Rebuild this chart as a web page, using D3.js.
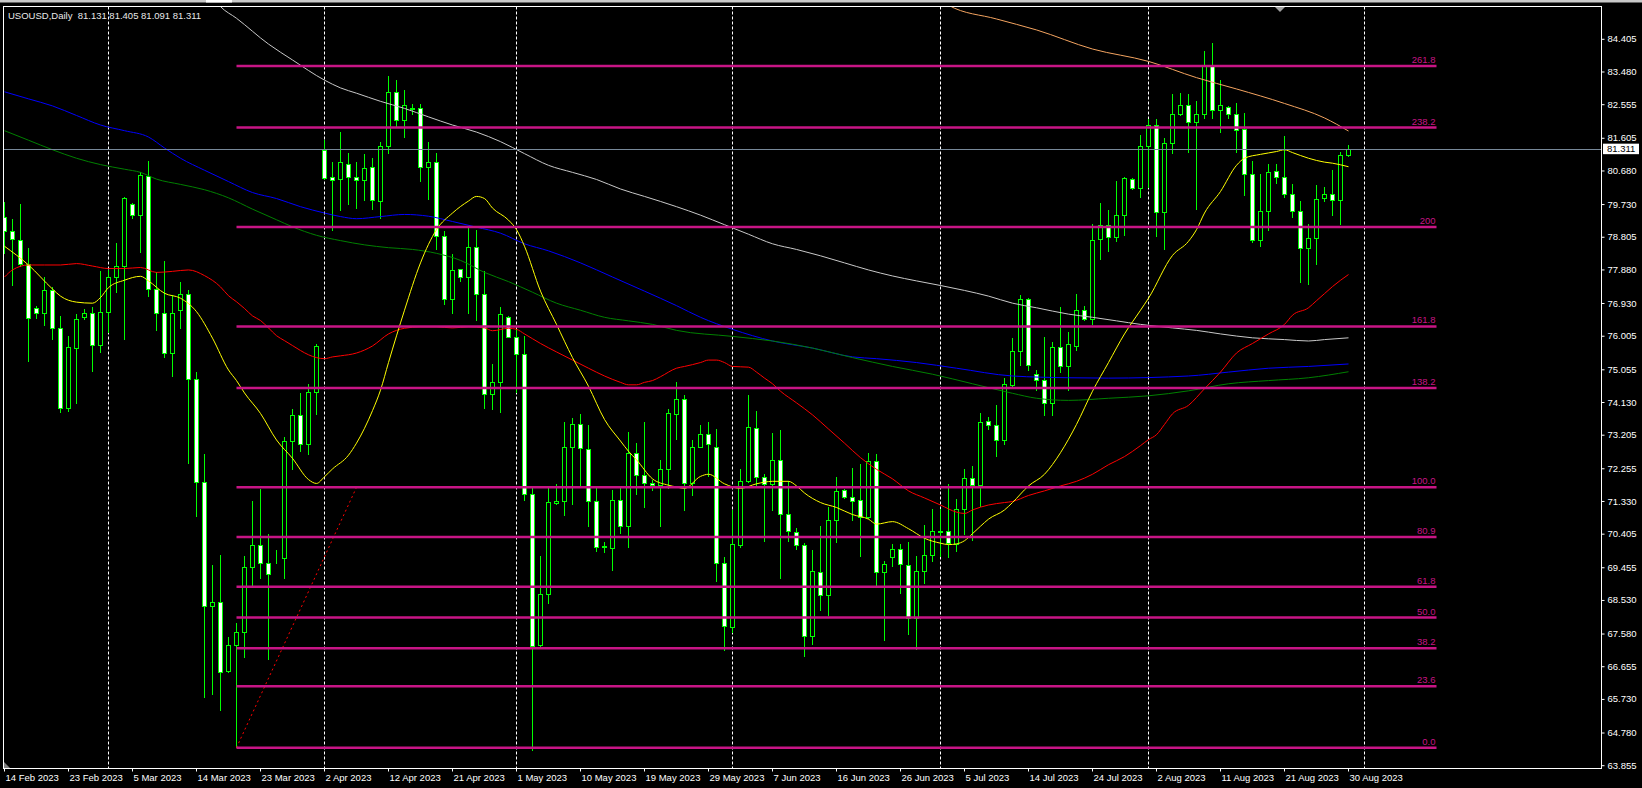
<!DOCTYPE html>
<html>
<head>
<meta charset="utf-8">
<title>USOUSD,Daily</title>
<script src="https://cdn.jsdelivr.net/npm/d3@7"></script>
<style>
    body { margin: 0; background: #000; overflow: hidden; }
    #chart-area text { font-family: "Liberation Sans", Arial, sans-serif; font-size: 9.5px; }
</style>
</head>
<body>
<div id="chart-area"></div>
<script>

// Symbol / last bar
var symbolTitle = 'USOUSD,Daily';
var lastQuote = [81.131, 81.405, 81.091, 81.311];

// X axis labels (one every 8 bars)
var dateLabels = ['14 Feb 2023', '23 Feb 2023', '5 Mar 2023', '14 Mar 2023', '23 Mar 2023', '2 Apr 2023',
    '12 Apr 2023', '21 Apr 2023', '1 May 2023', '10 May 2023', '19 May 2023', '29 May 2023', '7 Jun 2023',
    '16 Jun 2023', '26 Jun 2023', '5 Jul 2023', '14 Jul 2023', '24 Jul 2023', '2 Aug 2023', '11 Aug 2023',
    '21 Aug 2023', '30 Aug 2023'];
var labelEvery = 8;

// Bars where a new month starts (period separators)
var monthStarts = [13, 40, 64, 91, 117, 143, 170];

// Price scale labels
var priceTicks = [84.405, 83.480, 82.555, 81.605, 80.680, 79.730, 78.805, 77.880, 76.930, 76.005, 75.055,
    74.130, 73.205, 72.255, 71.330, 70.405, 69.455, 68.530, 67.580, 66.655, 65.730, 64.780, 63.855];

// Daily candles: open, high, low, close
var ohlc = [
    [79.39, 79.80, 78.35, 78.98], [78.98, 79.33, 77.44, 78.76], [78.74, 79.74, 77.99, 78.04], [78.04, 78.49, 75.31, 76.52],
    [76.79, 76.87, 76.51, 76.66], [76.65, 77.68, 76.31, 77.30], [77.30, 77.41, 75.92, 76.23], [76.23, 76.58, 73.85, 73.98],
    [73.97, 76.00, 73.88, 75.69], [75.68, 76.63, 74.12, 76.48], [76.54, 76.77, 76.50, 76.65], [76.65, 76.82, 75.03, 75.76],
    [75.76, 77.84, 75.57, 76.70], [76.70, 77.88, 76.13, 77.69], [77.67, 78.65, 77.26, 77.99], [77.99, 79.95, 75.92, 79.91],
    [79.74, 79.76, 79.36, 79.43], [79.43, 80.66, 78.38, 80.57], [80.54, 80.96, 77.13, 77.33], [77.33, 77.81, 76.19, 76.65],
    [76.65, 78.14, 75.42, 75.52], [75.52, 77.17, 74.87, 76.67], [76.74, 77.55, 76.24, 77.21], [77.21, 77.32, 72.41, 74.79],
    [74.79, 74.99, 70.91, 71.89], [71.89, 72.67, 65.81, 68.37], [68.37, 69.52, 65.87, 68.50], [68.50, 69.82, 65.42, 66.51],
    [66.54, 67.49, 66.50, 67.26], [67.26, 67.89, 64.37, 67.65], [67.65, 69.78, 66.92, 69.47], [69.47, 71.33, 68.92, 70.09],
    [70.09, 71.69, 69.17, 69.59], [69.59, 70.42, 66.86, 69.27], [69.76, 69.97, 69.59, 69.75], [69.73, 73.14, 69.17, 73.03],
    [73.03, 73.96, 72.24, 73.78], [73.78, 74.40, 72.77, 72.95], [72.95, 74.66, 72.67, 74.43], [74.43, 75.78, 73.81, 75.74],
    [81.28, 81.56, 80.45, 80.49], [80.50, 80.93, 79.00, 80.43], [80.45, 81.78, 79.59, 80.92], [80.89, 81.20, 79.74, 80.52],
    [80.50, 80.93, 79.64, 80.42], [80.43, 81.15, 79.87, 80.76], [80.78, 81.04, 79.60, 79.86], [79.83, 81.51, 79.36, 81.40],
    [81.40, 83.36, 81.20, 82.91], [82.91, 83.26, 81.95, 82.12], [82.12, 82.97, 81.63, 82.54], [82.45, 82.57, 82.28, 82.43],
    [82.45, 82.58, 80.41, 80.78], [80.80, 81.50, 79.88, 80.92], [80.92, 81.19, 78.47, 78.84], [78.84, 78.97, 76.91, 77.06],
    [77.06, 78.34, 76.65, 77.87], [77.90, 77.92, 77.56, 77.68], [77.68, 79.13, 76.65, 78.54], [78.54, 79.01, 76.47, 77.20],
    [77.20, 77.85, 73.98, 74.37], [74.37, 75.22, 73.96, 74.70], [74.70, 76.83, 73.86, 76.63], [76.55, 76.58, 75.97, 75.99],
    [75.99, 76.20, 74.43, 75.49], [75.49, 76.00, 71.36, 71.54], [71.54, 71.70, 64.31, 67.24], [67.26, 69.78, 67.24, 68.72],
    [68.72, 71.74, 68.46, 71.31], [71.28, 71.82, 71.26, 71.34], [71.34, 73.58, 70.96, 72.88], [72.88, 73.70, 71.27, 73.53],
    [73.53, 73.81, 71.81, 72.83], [72.81, 73.49, 70.64, 71.34], [71.34, 71.77, 69.93, 70.05], [70.07, 70.19, 69.91, 70.05],
    [70.02, 71.66, 69.39, 71.36], [71.36, 71.73, 70.44, 70.65], [70.65, 73.30, 70.05, 72.71], [72.71, 72.98, 71.54, 72.08],
    [72.08, 73.57, 71.17, 71.86], [71.86, 71.93, 71.66, 71.79], [71.79, 72.51, 70.63, 72.24], [72.24, 73.94, 71.70, 73.84],
    [73.81, 74.71, 73.11, 74.23], [74.23, 74.35, 71.09, 71.85], [71.85, 73.08, 71.51, 72.88], [72.88, 73.49, 72.86, 73.23],
    [73.23, 73.58, 72.04, 72.96], [72.87, 73.38, 69.08, 69.59], [69.59, 69.75, 67.13, 67.80], [67.78, 71.09, 67.63, 70.13],
    [70.11, 72.24, 70.05, 71.90], [71.90, 74.35, 71.88, 73.43], [73.41, 73.89, 71.78, 72.01], [72.01, 72.12, 70.22, 71.83],
    [71.83, 73.27, 71.09, 72.49], [72.49, 73.34, 69.16, 70.97], [70.97, 71.90, 70.22, 70.49], [70.46, 70.58, 69.98, 70.09],
    [70.11, 70.15, 66.96, 67.53], [67.53, 69.95, 67.30, 69.35], [69.33, 70.64, 68.25, 68.69], [68.69, 71.16, 68.13, 70.81],
    [70.81, 72.02, 70.19, 71.63], [71.66, 71.69, 71.43, 71.47], [71.46, 72.27, 70.81, 71.35], [71.36, 72.38, 69.78, 70.89],
    [70.89, 72.71, 70.86, 72.48], [72.48, 72.67, 68.98, 69.33], [69.33, 69.64, 67.41, 69.56], [69.75, 70.13, 69.51, 69.99],
    [69.99, 70.13, 68.74, 69.55], [69.54, 70.18, 67.57, 68.04], [68.04, 69.79, 67.16, 69.37], [69.37, 70.67, 69.01, 69.82],
    [69.82, 71.12, 69.64, 70.49], [70.49, 71.11, 69.79, 70.48], [70.49, 71.83, 69.75, 70.15], [70.13, 71.40, 69.93, 71.11],
    [71.13, 72.24, 70.42, 71.99], [71.99, 72.33, 70.25, 71.79], [71.79, 73.84, 71.20, 73.57], [73.60, 73.72, 73.38, 73.50],
    [73.50, 74.05, 72.61, 73.08], [73.08, 74.83, 72.95, 74.64], [74.63, 75.96, 74.58, 75.60], [75.60, 77.18, 75.18, 77.05],
    [77.05, 77.08, 75.05, 75.18], [74.93, 75.05, 74.48, 74.76], [74.76, 75.97, 73.78, 74.12], [74.12, 75.85, 73.78, 75.69],
    [75.69, 76.83, 74.98, 75.17], [75.17, 76.12, 74.48, 75.79], [75.74, 77.21, 75.61, 76.74], [76.74, 76.87, 76.47, 76.50],
    [76.50, 79.18, 76.36, 78.74], [78.75, 79.76, 78.18, 79.14], [79.14, 79.59, 78.41, 78.82], [78.82, 80.40, 78.69, 79.43],
    [79.43, 80.52, 78.88, 80.48], [80.46, 80.49, 80.17, 80.19], [80.19, 81.69, 79.94, 81.40], [81.40, 82.16, 80.23, 81.97],
    [81.97, 82.16, 78.85, 79.52], [79.52, 81.60, 78.46, 81.47], [81.47, 82.87, 81.20, 82.28], [82.28, 82.88, 82.26, 82.56],
    [82.56, 82.87, 81.21, 82.06], [82.06, 82.65, 79.60, 82.28], [82.29, 84.08, 82.18, 83.65], [83.65, 84.30, 82.17, 82.41],
    [82.41, 83.26, 81.78, 82.54], [82.50, 82.52, 82.17, 82.30], [82.30, 82.60, 81.23, 81.83], [81.86, 82.32, 79.99, 80.60],
    [80.60, 80.95, 78.67, 78.74], [78.74, 80.60, 78.55, 79.55], [79.55, 80.88, 79.01, 80.66], [80.69, 80.87, 80.35, 80.52],
    [80.50, 81.66, 79.94, 80.02], [80.02, 80.31, 79.39, 79.56], [79.56, 79.83, 77.55, 78.51], [78.49, 79.18, 77.48, 78.78],
    [78.78, 80.29, 78.04, 79.88], [79.91, 80.22, 79.83, 80.03], [80.02, 80.71, 79.43, 79.85], [79.85, 81.22, 79.19, 81.12],
    [81.131, 81.405, 81.091, 81.311]
];

// Moving averages as [bar, price]
var maYellow = [[0,78.55],[3,78.02],[6,77.34],[7,77.14],[9,76.97],[11,76.94],[12,77.10],[13,77.38],[15,77.59],[17,77.70],
    [18,77.57],[20,77.22],[22,77.08],[24,76.70],[26,75.95],[28,75.05],[29,74.75],[30,74.40],[32,73.82],[34,73.07],
    [36,72.55],[38,71.95],[39,71.84],[40,72.03],[41,72.25],[43,72.64],[44,72.98],[45,73.40],[46,73.90],[47,74.48],
    [48,75.26],[50,76.74],[52,78.08],[54,79.02],[56,79.49],[58,79.83],[59,79.96],[60,79.90],[61,79.63],[63,79.29],
    [64,79.02],[65,78.55],[67,77.28],[69,76.34],[71,75.40],[73,74.59],[75,73.65],[77,73.04],[78,72.75],[79,72.51],
    [81,71.97],[83,71.79],[84,71.74],[85,71.70],[87,72.04],[88,72.10],[90,71.83],[92,71.70],[94,71.83],[96,71.90],
    [98,71.90],[99,71.77],[100,71.57],[102,71.30],[104,71.16],[106,70.96],[108,70.83],[109,70.69],[111,70.76],
    [113,70.56],[115,70.29],[117,70.15],[118,70.11],[119,70.13],[120,70.22],[121,70.42],[122,70.63],[123,70.83],
    [125,71.09],[126,71.30],[128,71.77],[130,72.10],[132,72.71],[134,73.51],[136,74.45],[138,75.26],[140,76.07],
    [142,76.74],[143,77.08],[146,78.29],[148,78.69],[149,79.02],[150,79.49],[152,80.10],[154,80.84],[155,81.04],
    [157,81.15],[159,81.23],[160,81.28],[161,81.20],[163,81.04],[165,80.93],[166,80.90],[168,80.80]];

var maRed = [[0,77.68],[1,77.88],[3,78.02],[5,78.02],[7,78.02],[9,78.06],[11,77.99],[13,77.92],[15,77.92],[17,77.95],
    [19,77.81],[21,77.84],[23,77.88],[25,77.72],[27,77.40],[28,77.15],[29,76.98],[30,76.79],[31,76.58],[32,76.45],
    [33,76.24],[34,76.02],[35,75.88],[36,75.74],[37,75.60],[38,75.48],[39,75.40],[40,75.37],[41,75.42],[42,75.45],
    [44,75.53],[46,75.73],[48,76.07],[50,76.23],[52,76.27],[54,76.27],[56,76.24],[58,76.27],[60,76.24],[61,76.16],
    [63,76.23],[64,76.20],[65,76.07],[67,75.80],[69,75.56],[71,75.33],[73,75.10],[75,74.88],[77,74.70],[78,74.63],
    [79,74.63],[80,74.70],[81,74.75],[82,74.86],[84,75.10],[85,75.15],[87,75.26],[88,75.33],[89,75.33],[90,75.26],
    [91,75.15],[93,75.13],[94,74.99],[95,74.82],[96,74.66],[97,74.45],[99,74.12],[101,73.78],[103,73.38],[105,72.98],
    [107,72.57],[109,72.24],[111,71.97],[113,71.63],[115,71.43],[117,71.23],[119,71.03],[120,70.99],[121,71.09],
    [123,71.23],[125,71.30],[126,71.33],[128,71.50],[130,71.63],[132,71.77],[134,71.90],[136,72.10],[138,72.37],
    [140,72.60],[142,72.91],[143,73.08],[144,73.22],[145,73.51],[146,73.81],[148,74.05],[150,74.52],[152,74.99],
    [154,75.53],[156,75.80],[158,76.07],[160,76.34],[161,76.60],[163,76.81],[164,77.01],[165,77.21],[166,77.41],
    [168,77.75]];

var maGreen = [[0,81.82],[3,81.55],[6,81.28],[9,81.04],[12,80.86],[15,80.73],[17,80.64],[19,80.45],[22,80.30],
    [25,80.15],[28,79.92],[31,79.60],[34,79.30],[36,79.10],[39,78.86],[42,78.71],[45,78.59],[48,78.51],[51,78.46],
    [54,78.35],[57,78.15],[60,77.81],[63,77.55],[66,77.25],[69,76.94],[72,76.74],[75,76.54],[78,76.44],[81,76.34],
    [84,76.17],[91,76.00],[96,75.87],[101,75.67],[106,75.40],[111,75.15],[116,74.93],[121,74.66],[126,74.39],
    [129,74.25],[133,74.19],[138,74.25],[143,74.32],[148,74.46],[153,74.66],[158,74.75],[163,74.83],[168,75.00]];

var maBlue = [[0,82.92],[3,82.72],[6,82.52],[9,82.25],[12,81.98],[15,81.82],[18,81.64],[20,81.33],[22,81.04],
    [25,80.70],[28,80.38],[31,80.07],[34,79.90],[37,79.67],[40,79.49],[42,79.39],[44,79.33],[47,79.39],[50,79.45],
    [53,79.40],[56,79.25],[59,79.09],[62,78.92],[65,78.62],[68,78.42],[72,78.08],[76,77.68],[80,77.28],[84,76.87],
    [87,76.54],[91,76.20],[96,75.87],[101,75.67],[106,75.42],[109,75.37],[114,75.26],[119,75.10],[126,74.88],
    [133,74.83],[138,74.82],[148,74.88],[153,74.99],[158,75.10],[163,75.15],[168,75.22]];

var maSilver = [[26,85.60],[27,85.33],[29,85.00],[33,84.27],[36,83.82],[40,83.25],[42,83.03],[44,82.88],[47,82.65],
    [50,82.45],[53,82.21],[56,81.98],[59,81.78],[62,81.51],[65,81.17],[68,80.84],[71,80.64],[74,80.44],[77,80.17],
    [80,79.96],[84,79.67],[87,79.43],[90,79.16],[93,78.89],[96,78.62],[99,78.46],[102,78.28],[105,78.08],[108,77.88],
    [111,77.71],[114,77.57],[117,77.44],[120,77.30],[123,77.14],[126,76.94],[129,76.81],[133,76.63],[136,76.54],
    [139,76.44],[142,76.34],[146,76.24],[149,76.17],[152,76.07],[156,75.96],[160,75.91],[163,75.87],[165,75.91],
    [168,75.96]];

var maOrange = [[117,85.60],[118,85.37],[124,84.98],[129,84.67],[136,84.13],[143,83.78],[149,83.32],[154,83.00],
    [160,82.59],[165,82.18],[168,81.81]];

// Fibonacci levels (from the swing low to the swing high)
var fibLow = 64.365;
var fibHigh = 71.73;
var fibLevels = [0, 23.6, 38.2, 50, 61.8, 80.9, 100, 138.2, 161.8, 200, 238.2, 261.8];
var fibLabels = ['0.0', '23.6', '38.2', '50.0', '61.8', '80.9', '100.0', '138.2', '161.8', '200', '238.2', '261.8'];
var fibFromBar = 29;
var fibToBar = 179;

// Dotted trend line of the first leg: [bar, price]
var trendLine = [[29, 64.365], [44, 71.73]];


/*
 * CandleChart - Object constructor function
 */

CandleChart = function(_parentElement){
    this.parentElement = _parentElement;
    this.initVis();
};

CandleChart.prototype.initVis = function(){
    var vis = this;

    vis.width = 1642;
    vis.height = 788;
    vis.frame = { left: 3.5, top: 6.5, right: 1601.5, bottom: 768.5 };

    vis.svg = d3.select("#" + vis.parentElement).append("svg")
        .attr("width", vis.width)
        .attr("height", vis.height);

    vis.svg.append("rect")
        .attr("width", vis.width)
        .attr("height", vis.height)
        .attr("fill", "#000");

    // window strip at the very top
    vis.svg.append("rect")
        .attr("x", 0).attr("y", 0)
        .attr("width", vis.width).attr("height", 2.5)
        .attr("fill", "#c8c8c8");
    vis.svg.append("rect")
        .attr("x", 206).attr("y", 0)
        .attr("width", 26).attr("height", 2.5)
        .attr("fill", "#fff");

    // Scales: bar index -> x, price -> y
    vis.x = d3.scaleLinear()
        .domain([0, 168])
        .range([4.5, 1348.5]);
    vis.y = d3.scaleLinear()
        .domain([63.855, 84.405])
        .range([765.7, 39.3]);

    // clip to the plot area
    vis.svg.append("clipPath")
        .attr("id", "plot-clip")
        .append("rect")
        .attr("x", 4).attr("y", 7)
        .attr("width", vis.frame.right - 4.5)
        .attr("height", vis.frame.bottom - 7.5);

    vis.plot = vis.svg.append("g")
        .attr("clip-path", "url(#plot-clip)");

    vis.updateVis();
};

CandleChart.prototype.updateVis = function(){
    var vis = this;
    var py = function(v) { return Math.round(vis.y(v)) + 0.5; };

    // Month separators
    vis.plot.selectAll(".sep")
        .data(monthStarts)
        .enter().append("line")
        .attr("class", "sep")
        .attr("x1", function(d) { return vis.x(d); })
        .attr("x2", function(d) { return vis.x(d); })
        .attr("y1", vis.frame.top)
        .attr("y2", vis.frame.bottom)
        .attr("stroke", "#fff")
        .attr("stroke-dasharray", "3,2");

    // Candles
    var candles = vis.plot.selectAll(".candle")
        .data(ohlc)
        .enter().append("g")
        .attr("class", "candle");

    candles.append("line")
        .attr("x1", function(d, i) { return vis.x(i); })
        .attr("x2", function(d, i) { return vis.x(i); })
        .attr("y1", function(d) { return Math.round(vis.y(d[1])); })
        .attr("y2", function(d) { return Math.round(vis.y(d[2])) + 1; })
        .attr("stroke", "#00ff00");

    candles.append("rect")
        .attr("x", function(d, i) { return vis.x(i) - 2; })
        .attr("y", function(d) { return py(Math.max(d[0], d[3])); })
        .attr("width", 4)
        .attr("height", function(d) { return py(Math.min(d[0], d[3])) - py(Math.max(d[0], d[3])); })
        .attr("fill", function(d) { return d[3] > d[0] ? "#000" : "#fff"; })
        .attr("stroke", "#00ff00");

    // Moving averages
    var maLine = d3.line()
        .x(function(d) { return vis.x(d[0]); })
        .y(function(d) { return vis.y(d[1]); })
        .curve(d3.curveMonotoneX);

    var averages = [
        { values: maOrange, color: "#f4a460" },
        { values: maSilver, color: "#c8c8c8" },
        { values: maBlue, color: "#0000ff" },
        { values: maGreen, color: "#008000" },
        { values: maRed, color: "#ff0000" },
        { values: maYellow, color: "#ffff00" }
    ];
    vis.plot.selectAll(".ma")
        .data(averages)
        .enter().append("path")
        .attr("class", "ma")
        .attr("d", function(d) { return maLine(d.values); })
        .attr("fill", "none")
        .attr("stroke", function(d) { return d.color; })
        .attr("stroke-width", 1);

    // Trend line of the first leg
    vis.plot.append("line")
        .attr("x1", vis.x(trendLine[0][0]))
        .attr("y1", vis.y(trendLine[0][1]))
        .attr("x2", vis.x(trendLine[1][0]))
        .attr("y2", vis.y(trendLine[1][1]))
        .attr("stroke", "#ff0000")
        .attr("stroke-dasharray", "2,3");

    // Fibonacci levels
    var fib = fibLevels.map(function(l, i) {
        return { price: fibLow + (fibHigh - fibLow) * l / 100, label: fibLabels[i] };
    });
    vis.plot.selectAll(".fib")
        .data(fib)
        .enter().append("line")
        .attr("class", "fib")
        .attr("x1", vis.x(fibFromBar))
        .attr("x2", vis.x(fibToBar))
        .attr("y1", function(d) { return vis.y(d.price); })
        .attr("y2", function(d) { return vis.y(d.price); })
        .attr("stroke", "#c71585")
        .attr("stroke-width", 2.5);
    vis.plot.selectAll(".fib-label")
        .data(fib)
        .enter().append("text")
        .attr("class", "fib-label")
        .attr("x", vis.x(fibToBar) - 1)
        .attr("y", function(d) { return vis.y(d.price) - 3; })
        .attr("text-anchor", "end")
        .attr("fill", "#c71585")
        .text(function(d) { return d.label; });

    // Current price line
    var last = lastQuote[3];
    vis.svg.append("line")
        .attr("x1", vis.frame.left)
        .attr("x2", vis.frame.right)
        .attr("y1", py(last))
        .attr("y2", py(last))
        .attr("stroke", "#778899");

    // Frame
    vis.svg.append("rect")
        .attr("x", vis.frame.left)
        .attr("y", vis.frame.top)
        .attr("width", vis.frame.right - vis.frame.left)
        .attr("height", vis.frame.bottom - vis.frame.top)
        .attr("fill", "none")
        .attr("stroke", "#fff");

    // little markers (chart shift, corner)
    vis.svg.append("path")
        .attr("d", "M1275,7L1285,7L1280,12Z")
        .attr("fill", "#a0a0a0");
    vis.svg.append("path")
        .attr("d", "M4,762L4,768L10,768Z")
        .attr("fill", "#808080");

    // Price axis
    var yAxis = d3.axisRight(vis.y)
        .tickValues(priceTicks)
        .tickFormat(d3.format(".3f"))
        .tickSize(3)
        .offset(0);
    var yG = vis.svg.append("g")
        .attr("class", "axis y-axis")
        .attr("transform", "translate(" + vis.frame.right + ",0)")
        .call(yAxis);

    // Time axis
    var xAxis = d3.axisBottom(vis.x)
        .tickValues(dateLabels.map(function(d, i) { return i * labelEvery; }))
        .tickFormat(function(d, i) { return dateLabels[i]; })
        .tickSize(3)
        .offset(0);
    var xG = vis.svg.append("g")
        .attr("class", "axis x-axis")
        .attr("transform", "translate(0," + vis.frame.bottom + ")")
        .call(xAxis);

    [yG, xG].forEach(function(g) {
        g.select(".domain").remove();
        g.selectAll("line").attr("stroke", "#fff");
        g.selectAll("text")
            .attr("fill", "#fff")
            .attr("font-family", null)
            .attr("font-size", null);
    });
    xG.selectAll("text")
        .attr("text-anchor", "start")
        .attr("x", 1);

    // Current price label
    vis.svg.append("rect")
        .attr("x", 1603).attr("y", vis.y(last) - 5)
        .attr("width", 36).attr("height", 10.5)
        .attr("fill", "#fff");
    vis.svg.append("text")
        .attr("x", 1607)
        .attr("y", vis.y(last) + 3.5)
        .attr("fill", "#000")
        .text(last.toFixed(3));

    // Title
    vis.svg.append("text")
        .attr("x", 8)
        .attr("y", 18.5)
        .attr("fill", "#e8e8e8")
        .attr("xml:space", "preserve")
        .text(symbolTitle + "  " + lastQuote.map(function(v) { return v.toFixed(3); }).join(" "));
};

new CandleChart("chart-area");

</script>
</body>
</html>
